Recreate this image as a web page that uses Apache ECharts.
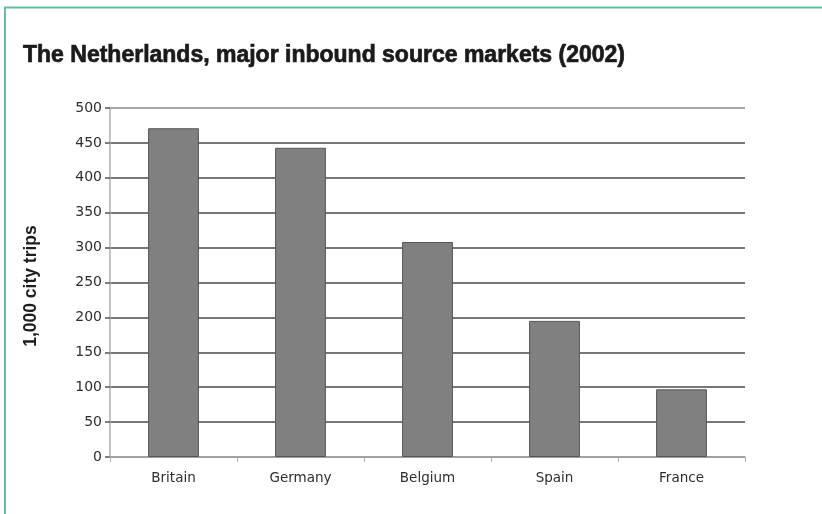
<!DOCTYPE html>
<html>
<head>
<meta charset="utf-8">
<script src="https://cdn.jsdelivr.net/npm/echarts@6/dist/echarts.min.js"></script>
<style>
  html, body { margin: 0; padding: 0; background: #fff; }
  #chart { width: 822px; height: 514px; }
</style>
</head>
<body>
<div id="chart"></div>
<script>
// Inbound city trips by source market, thousands
const markets = ['Britain', 'Germany', 'Belgium', 'Spain', 'France'];
const trips = [471, 443, 308, 195, 97];
const yTicks = [0, 50, 100, 150, 200, 250, 300, 350, 400, 450, 500];

const titleText = 'The Netherlands, major inbound source markets (2002)';
const axisTitle = '1,000 city trips';

const chart = echarts.init(document.getElementById('chart'), null, { renderer: 'canvas' });

// grid line colours: darker inner lines, lighter top edge
const gridColors = yTicks.map((v, i) => (i === yTicks.length - 1 ? '#8a8a8a' : '#4a4a4a'));

chart.setOption({
  backgroundColor: '#ffffff',
  animation: false,
  title: {
    text: titleText,
    left: 18,
    top: 39,
    textStyle: {
      fontFamily: 'Liberation Sans',
      fontWeight: 'bold',
      fontSize: 23,
      color: '#1a1a1a',
      textBorderColor: '#1a1a1a',
      textBorderWidth: 0.7
    }
  },
  grid: { left: 110, right: 77, top: 108, bottom: 57, containLabel: false },
  xAxis: {
    type: 'category',
    data: markets,
    z: 1,
    axisLine: { show: true, lineStyle: { color: '#b0b0b0', width: 1.5 } },
    axisTick: { show: true, length: 5, lineStyle: { color: '#b0b0b0', width: 1 } },
    axisLabel: {
      margin: 14,
      fontFamily: 'DejaVu Sans',
      fontSize: 13.5,
      color: '#2e2e2e'
    },
    splitLine: { show: false }
  },
  yAxis: {
    type: 'value',
    min: yTicks[0],
    max: yTicks[yTicks.length - 1],
    interval: 50,
    z: 0,
    axisLine: { show: true, lineStyle: { color: '#b0b0b0', width: 1.5 } },
    axisTick: { show: true, length: 5, lineStyle: { color: '#555', width: 1.5 } },
    axisLabel: {
      margin: 8,
      fontFamily: 'DejaVu Sans',
      fontSize: 14,
      color: '#2e2e2e'
    },
    splitLine: { show: true, lineStyle: { color: gridColors, width: 1.5 } }
  },
  series: [{
    type: 'bar',
    data: trips,
    barWidth: '40%',
    itemStyle: { color: '#808080', borderColor: '#555', borderWidth: 1 },
    z: 2
  }],
  graphic: [
    {
      type: 'polyline',
      shape: { points: [[5, 514], [5, 7.5], [822, 7.5]] },
      style: { stroke: '#62bf9f', lineWidth: 2, fill: null },
      z: 10
    },
    {
      type: 'text',
      x: 31,
      y: 286,
      rotation: Math.PI / 2,
      style: {
        text: axisTitle,
        fontFamily: 'Liberation Sans',
        fontWeight: 'bold',
        fontSize: 17.5,
        fill: '#1c1c1c',
        align: 'center',
        verticalAlign: 'middle'
      }
    }
  ]
});
</script>
</body>
</html>
